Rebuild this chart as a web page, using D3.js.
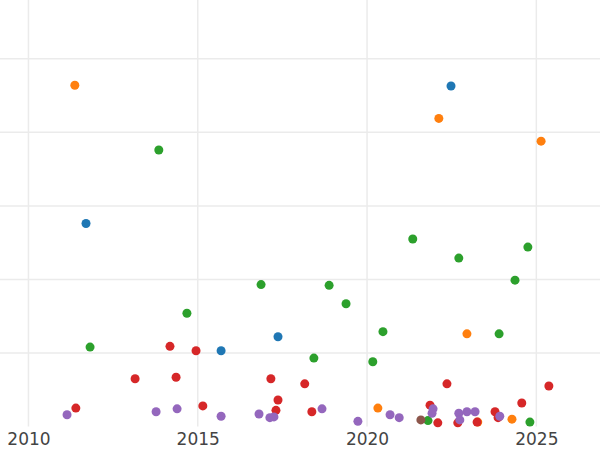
<!DOCTYPE html>
<html><head><meta charset="utf-8">
<script src="https://cdn.jsdelivr.net/npm/d3@7"></script>
<style>body{margin:0;background:#fff}svg{display:block}</style>
</head><body><svg id="c" width="600" height="450"></svg>
<script>
// [year, value] per series
const orange = [[2011.37,4.64],[2022.12,4.19],[2025.14,3.88],[2022.95,1.26],[2020.32,0.25],[2023.27,0.06],[2024.28,0.1]];
const blue = [[2022.48,4.63],[2011.70,2.76],[2017.37,1.22],[2015.69,1.03]];
const green = [[2013.85,3.76],[2021.35,2.55],[2022.71,2.29],[2024.75,2.44],[2024.37,1.99],[2016.87,1.93],[2018.88,1.92],[2019.38,1.67],[2014.68,1.54],[2020.47,1.29],[2023.9,1.26],[2011.82,1.08],[2018.43,0.93],[2020.17,0.88],[2021.80,0.08],[2024.81,0.06]];
const red = [[2014.18,1.09],[2014.95,1.03],[2013.15,0.65],[2014.36,0.67],[2017.16,0.65],[2018.16,0.58],[2017.37,0.36],[2022.36,0.58],[2025.37,0.55],[2011.40,0.25],[2015.15,0.28],[2017.31,0.22],[2018.37,0.2],[2021.86,0.29],[2022.09,0.05],[2022.68,0.05],[2023.25,0.06],[2023.78,0.2],[2023.87,0.12],[2024.57,0.32]];
const purple = [[2011.14,0.16],[2013.77,0.2],[2014.39,0.24],[2015.69,0.14],[2016.81,0.17],[2017.13,0.12],[2017.25,0.13],[2018.67,0.24],[2019.73,0.07],[2020.68,0.16],[2020.95,0.12],[2021.95,0.24],[2021.92,0.18],[2022.71,0.18],[2022.95,0.2],[2023.19,0.2],[2022.74,0.09],[2023.92,0.14]];
const brown = [[2021.59,0.09]];
const series = [
  {color:'#1f77b4', pts:blue},
  {color:'#ff7f0e', pts:orange},
  {color:'#2ca02c', pts:green},
  {color:'#d62728', pts:red},
  {color:'#9467bd', pts:purple},
  {color:'#8c564b', pts:brown}
];
const xTicks = [2010, 2015, 2020, 2025];
const yGrid = [1, 2, 3, 4, 5];

const svg = d3.select('#c');
const x = d3.scaleLinear().domain([2009.16, 2026.88]).range([0, 600]);
const y = d3.scaleLinear().domain([0, 5.8]).range([426.5, 0]);

svg.append('g').selectAll('line').data(xTicks).join('line')
  .attr('x1', d => x(d)).attr('x2', d => x(d)).attr('y1', 0).attr('y2', 426.5)
  .attr('stroke', '#ebebeb').attr('stroke-width', 1.5);
svg.append('g').selectAll('line').data(yGrid).join('line')
  .attr('x1', 0).attr('x2', 600).attr('y1', d => y(d)).attr('y2', d => y(d))
  .attr('stroke', '#ebebeb').attr('stroke-width', 1.5);

const ax = svg.append('g').attr('transform', 'translate(0,426.5)')
  .call(d3.axisBottom(x).tickValues(xTicks).tickFormat(d3.format('d')).tickSize(0).tickPadding(6));
ax.select('.domain').remove();
ax.selectAll('text').attr('font-family', 'DejaVu Sans').attr('font-size', 17).attr('fill', '#444');

series.forEach(s => {
  svg.append('g').selectAll('circle').data(s.pts).join('circle')
    .attr('cx', d => x(d[0])).attr('cy', d => y(d[1])).attr('r', 4.5)
    .attr('fill', s.color);
});
</script></body></html>
